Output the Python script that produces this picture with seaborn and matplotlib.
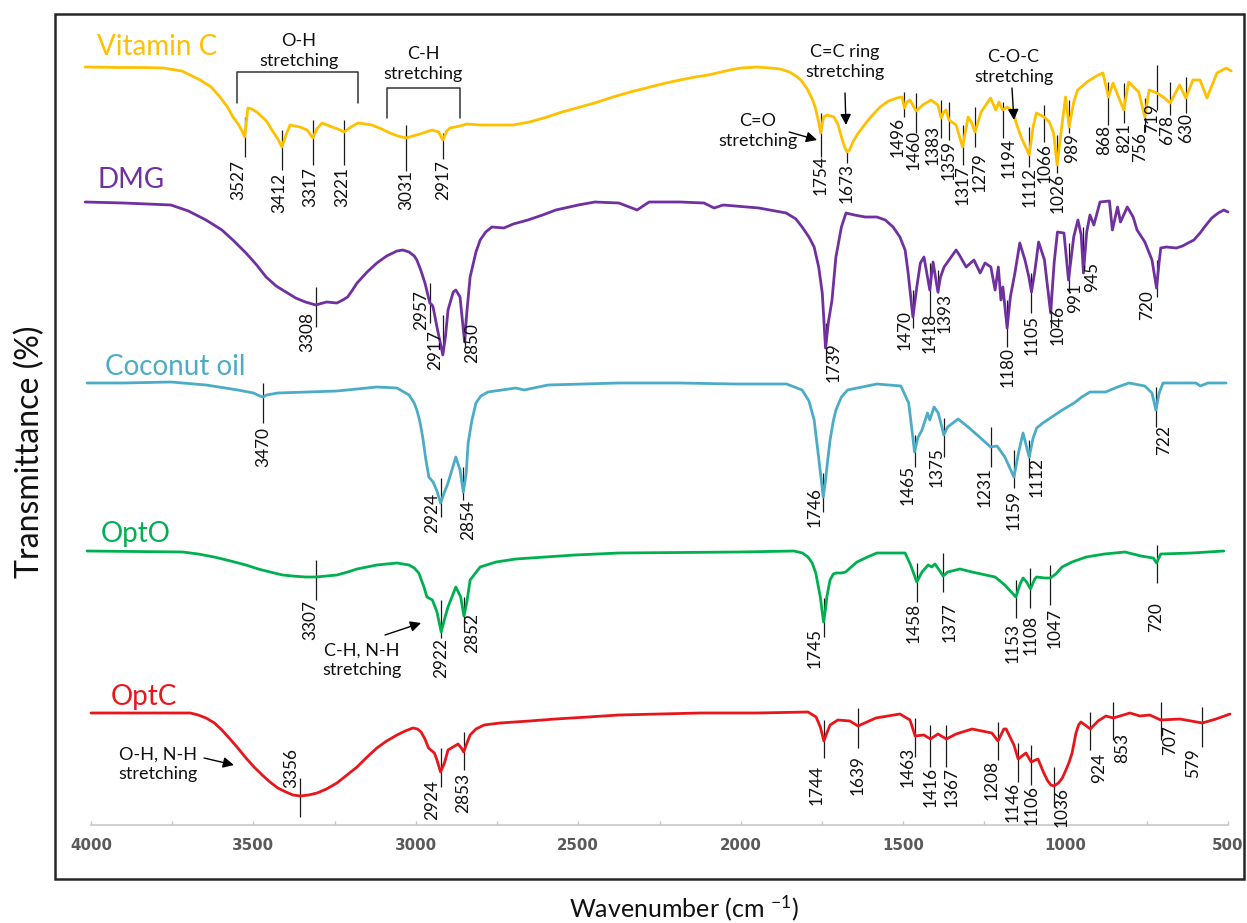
import matplotlib
matplotlib.use("Agg")
import matplotlib.pyplot as plt
import matplotlib.transforms as mtransforms
from matplotlib.patches import Rectangle
import pandas as pd
import seaborn as sns

# ---------------- FTIR spectra (wavenumber, relative transmittance) ----------------
vitc_wn = [4018, 3911, 3840, 3778, 3720, 3664, 3630, 3603, 3580, 3563,
           3545, 3535, 3527, 3522, 3517, 3505, 3490, 3480, 3460, 3443,
           3425, 3412, 3400, 3387, 3357, 3335, 3317, 3305, 3289, 3258,
           3240, 3221, 3200, 3178, 3135, 3105, 3080, 3055, 3031, 2987,
           2950, 2930, 2917, 2905, 2895, 2864, 2843, 2803, 2750, 2701,
           2650, 2596, 2550, 2495, 2450, 2393, 2340, 2279, 2230, 2187,
           2140, 2100, 2060, 2033, 2000, 1950, 1910, 1879, 1850, 1830,
           1815, 1795, 1780, 1771, 1760, 1754, 1745, 1734, 1713, 1700,
           1690, 1680, 1673, 1665, 1655, 1640, 1624, 1600, 1571, 1545,
           1519, 1503, 1496, 1488, 1479, 1460, 1440, 1414, 1393, 1383,
           1375, 1368, 1359, 1337, 1317, 1300, 1290, 1279, 1260, 1231,
           1215, 1205, 1194, 1180, 1160, 1153, 1137, 1112, 1100, 1090,
           1066, 1050, 1037, 1026, 1012, 1000, 989, 975, 963, 930,
           900, 885, 868, 854, 821, 806, 775, 756, 743, 719,
           700, 678, 649, 630, 608, 586, 565, 534, 506, 490]
vitc_t = [0, -0.5, -0.5, -1, -4, -13, -20, -30, -40, -50,
          -58, -64, -70, -55, -41, -42, -45, -48, -54, -63,
          -72, -80, -68, -58, -60, -63, -71, -62, -56, -60,
          -62, -65, -60, -56, -58, -62, -66, -69, -71, -67,
          -63, -65, -73, -64, -61, -59, -57, -58, -58, -58,
          -55, -50, -45, -40, -36, -30, -25, -20, -16, -13,
          -10, -8, -5, -3, -1, 0, -1, -2, -5, -9,
          -13, -22, -32, -40, -55, -66, -50, -48, -50, -58,
          -70, -80, -85, -83, -75, -67, -60, -50, -40, -34,
          -31, -30, -41, -35, -33, -44, -38, -33, -38, -51,
          -45, -43, -53, -58, -80, -50, -55, -65, -45, -31,
          -43, -35, -43, -40, -45, -55, -70, -88, -60, -46,
          -50, -55, -66, -98, -60, -30, -60, -35, -23, -14,
          -8, -6, -30, -16, -43, -15, -25, -50, -23, -26,
          -30, -36, -18, -31, -13, -13, -31, -6, -1, -4]

dmg_wn = [4018, 3900, 3754, 3700, 3646, 3597, 3560, 3523, 3490, 3461,
          3430, 3400, 3370, 3340, 3308, 3275, 3243, 3225, 3210, 3195,
          3181, 3150, 3120, 3090, 3058, 3040, 3021, 3005, 2997, 2985,
          2972, 2957, 2950, 2947, 2935, 2917, 2909, 2901, 2885, 2877,
          2864, 2850, 2843, 2833, 2815, 2802, 2785, 2766, 2729, 2700,
          2655, 2610, 2569, 2500, 2449, 2375, 2319, 2282, 2187, 2113,
          2082, 2054, 1944, 1860, 1830, 1811, 1790, 1774, 1760, 1749,
          1739, 1730, 1719, 1707, 1690, 1676, 1650, 1617, 1581, 1555,
          1531, 1510, 1494, 1485, 1470, 1458, 1447, 1436, 1418, 1408,
          1393, 1385, 1374, 1337, 1327, 1306, 1282, 1263, 1248, 1230,
          1217, 1207, 1199, 1193, 1180, 1170, 1156, 1141, 1125, 1113,
          1105, 1095, 1083, 1065, 1058, 1046, 1035, 1025, 1005, 991,
          975, 962, 952, 945, 935, 925, 913, 894, 865, 856,
          840, 831, 810, 792, 780, 756, 734, 720, 712, 707,
          690, 659, 640, 623, 605, 586, 570, 550, 530, 513,
          500]
dmg_t = [0, -1, -3, -9, -18, -28, -39, -51, -63, -75,
         -84, -90, -96, -100, -103, -100, -101, -98, -95, -88,
         -81, -70, -61, -54, -49, -48, -50, -54, -58, -68,
         -81, -101, -103, -105, -125, -153, -135, -108, -90, -88,
         -95, -140, -110, -75, -50, -38, -30, -25, -26, -22,
         -18, -13, -8, -3, 0, -1, -8, 0, 0, -1,
         -6, -3, -6, -11, -17, -25, -35, -45, -65, -91,
         -146, -120, -98, -55, -25, -11, -13, -15, -15, -18,
         -25, -35, -48, -70, -115, -85, -61, -55, -88, -60,
         -90, -75, -65, -48, -53, -65, -58, -71, -61, -65,
         -88, -65, -98, -85, -126, -95, -71, -41, -58, -75,
         -90, -70, -40, -58, -78, -111, -60, -30, -31, -78,
         -35, -18, -33, -71, -30, -13, -23, 0, 1, -28,
         -5, -20, -5, -15, -28, -40, -58, -86, -60, -46,
         -45, -46, -44, -41, -38, -31, -24, -16, -11, -8,
         -10]

coco_wn = [4012, 3900, 3754, 3646, 3548, 3500, 3480, 3470, 3460, 3425,
           3243, 3120, 3058, 3021, 3005, 2997, 2988, 2979, 2970, 2960,
           2947, 2935, 2924, 2913, 2901, 2877, 2864, 2854, 2845, 2839,
           2828, 2815, 2800, 2778, 2692, 2667, 2593, 2375, 2187, 2018,
           1859, 1811, 1790, 1774, 1760, 1746, 1738, 1735, 1725, 1715,
           1707, 1690, 1671, 1581, 1507, 1483, 1470, 1465, 1455, 1442,
           1425, 1418, 1405, 1392, 1380, 1375, 1363, 1331, 1300, 1265,
           1231, 1211, 1187, 1159, 1145, 1131, 1112, 1100, 1089, 1070,
           1047, 1010, 974, 950, 925, 877, 840, 805, 756, 734,
           722, 712, 700, 599, 585, 562, 506]
coco_t = [0, 0, 1, -2, -7, -10, -13, -14, -12, -10,
          -8, -4, -5, -12, -20, -27, -38, -54, -75, -94,
          -99, -108, -120, -110, -100, -74, -87, -109, -90, -60,
          -38, -20, -13, -9, -5, -7, -2, 0, 0, -1,
          -1, -7, -18, -37, -75, -114, -95, -85, -57, -38,
          -27, -14, -7, -1, -3, -20, -55, -69, -55, -47,
          -30, -37, -24, -30, -45, -52, -44, -36, -44, -54,
          -64, -63, -74, -94, -70, -50, -74, -55, -45, -40,
          -35, -27, -20, -14, -9, -9, -4, 0, -3, -10,
          -27, -10, 0, 0, -3, 0, 0]

opto_wn = [4012, 3718, 3670, 3621, 3570, 3523, 3485, 3449, 3410, 3380,
           3340, 3307, 3275, 3243, 3210, 3181, 3120, 3058, 3021, 3005,
           2991, 2975, 2966, 2949, 2935, 2922, 2910, 2901, 2877, 2862,
           2852, 2843, 2833, 2802, 2753, 2692, 2510, 2375, 2005, 1836,
           1810, 1793, 1780, 1769, 1755, 1745, 1738, 1735, 1725, 1715,
           1707, 1690, 1677, 1660, 1642, 1610, 1581, 1494, 1477, 1458,
           1442, 1423, 1412, 1402, 1385, 1377, 1363, 1325, 1288, 1217,
           1187, 1153, 1140, 1131, 1120, 1108, 1095, 1089, 1064, 1047,
           1030, 1011, 980, 937, 880, 817, 768, 730, 720, 707,
           611, 513]
opto_t = [1, 0, -2, -5, -9, -13, -17, -20, -23, -24,
          -25, -25, -24, -23, -20, -17, -13, -11, -13, -16,
          -21, -35, -45, -48, -60, -80, -65, -55, -35, -45,
          -64, -50, -28, -15, -10, -7, -3, -1, 0, 1,
          -1, -5, -11, -21, -45, -70, -55, -45, -28, -22,
          -21, -21, -20, -15, -10, -5, -1, -1, -13, -30,
          -20, -13, -15, -12, -20, -24, -20, -17, -20, -25,
          -33, -45, -32, -26, -30, -37, -27, -25, -26, -26,
          -22, -15, -10, -5, -2, 0, -4, -6, -11, -2,
          -1, 1]

optc_wn = [4000, 3720, 3694, 3670, 3646, 3620, 3597, 3572, 3548, 3523,
           3498, 3473, 3449, 3425, 3400, 3378, 3356, 3330, 3304, 3275,
           3243, 3212, 3181, 3150, 3120, 3090, 3058, 3033, 3009, 2995,
           2984, 2972, 2961, 2943, 2935, 2924, 2912, 2901, 2870, 2860,
           2853, 2845, 2833, 2815, 2790, 2741, 2650, 2570, 2470, 2375,
           2250, 2125, 1950, 1793, 1768, 1755, 1744, 1735, 1725, 1701,
           1664, 1639, 1584, 1510, 1479, 1463, 1436, 1416, 1393, 1367,
           1337, 1288, 1227, 1208, 1190, 1183, 1159, 1146, 1122, 1106,
           1085, 1067, 1055, 1045, 1036, 1022, 1010, 999, 990, 980,
           968, 960, 953, 940, 924, 900, 876, 853, 802, 771,
           741, 707, 648, 579, 537, 494]
optc_t = [0, 0, 0, -2, -5, -10, -17, -26, -35, -45,
          -54, -62, -69, -75, -79, -82, -83, -82, -80, -76,
          -70, -62, -54, -44, -35, -28, -22, -18, -15, -16,
          -19, -26, -35, -40, -47, -59, -50, -37, -31, -35,
          -39, -32, -22, -16, -12, -10, -8, -6, -4, -2,
          -1, 0, 0, 1, -4, -14, -28, -20, -12, -7,
          -8, -13, -5, -1, -7, -23, -22, -26, -21, -26,
          -21, -16, -20, -28, -16, -16, -32, -46, -40, -49,
          -46, -60, -68, -72, -73, -70, -65, -57, -50, -40,
          -20, -12, -9, -12, -16, -8, -3, -5, 0, -3,
          -2, -7, -6, -10, -6, -1]

# labelled band positions (cm-1)
vitc_peaks = [3527, 3412, 3317, 3221, 3031, 2917, 1754, 1673, 1496, 1460, 1383, 1359, 1317,
              1279, 1194, 1112, 1066, 1026, 989, 868, 821, 756, 719, 678, 630]
dmg_peaks = [3308, 2957, 2917, 2850, 1739, 1470, 1418, 1393, 1180, 1105, 1046, 991, 945, 720]
coco_peaks = [3470, 2924, 2854, 1746, 1465, 1375, 1231, 1159, 1112, 722]
opto_peaks = [3307, 2922, 2852, 1745, 1458, 1377, 1153, 1108, 1047, 720]
optc_peaks = [3356, 2924, 2853, 1744, 1639, 1463, 1416, 1367, 1208, 1146, 1106, 1036,
              924, 853, 707, 579]

names = ["Vitamin C", "DMG", "Coconut oil", "OptO", "OptC"]
colors = ["#FFC000", "#7030A0", "#4BACC6", "#00B050", "#E8161B"]
x_ticks = [4000, 3500, 3000, 2500, 2000, 1500, 1000, 500]

# ---------------- layout ----------------
# vertical stacking offset of every trace
offsets = [812, 677, 496, 327, 166]
# band markers: (line top, line bottom, label top, label x shift in px), relative to trace level
vitc_marks = [(-50, -90, -93, -6), (-63, -103, -106, -3), (-53, -98, -100, -3),
              (-53, -98, -100, -2), (-58, -104, -103, 0), (-66, -92, -93, 0),
              (-46, -90, -88, 0), (-83, -96, -96, 0), (-25, -50, -50, -7),
              (-26, -66, -63, -3), (-33, -71, -58, -9), (-35, -73, -73, 0),
              (-58, -98, -98, 0), (-40, -80, -85, 5), (-35, -71, -71, 6),
              (-60, -100, -100, 0), (-38, -75, -76, 0), (-68, -106, -106, 0),
              (-33, -66, -66, 3), (-15, -58, -58, -4), (-16, -56, -56, 0),
              (-31, -65, -65, -5), (2, -43, -36, -5), (-15, -48, -48, -3),
              (-10, -46, -46, 0)]
dmg_marks = [(-85, -125, -110, -9), (-81, -121, -88, -9), (-113, -151, -128, -8),
             (-115, -146, -121, 8), (-121, -160, -140, 8), (-88, -126, -108, -8),
             (-61, -115, -111, 0), (-68, -91, -91, 7), (-98, -145, -145, 0),
             (-71, -111, -113, 0), (-88, -126, -103, 7), (-41, -91, -81, 7),
             (-25, -71, -60, 9), (-58, -95, -88, -9)]
coco_marks = [(0, -40, -44, 0), (-95, -134, -110, -8), (-84, -117, -117, 5),
              (-90, -129, -104, -9), (-52, -84, -82, -7), (-35, -74, -64, -7),
              (-44, -84, -84, -6), (-67, -105, -107, 0), (-57, -95, -74, 7),
              (-4, -44, -42, 8)]
opto_marks = [(-8, -48, -48, -6), (-48, -86, -86, 0), (-45, -76, -61, 8),
              (-46, -85, -76, -9), (-11, -50, -51, -3), (-1, -40, -50, 6),
              (-28, -66, -71, -3), (-16, -56, -63, 0), (-13, -53, -56, 4),
              (7, -31, -50, 0)]
optc_marks = [(-65, -104, -35, -9), (-35, -74, -67, -8), (-19, -57, -60, 0),
              (-7, -45, -52, -7), (5, -35, -42, 0), (-5, -44, -34, -8),
              (-12, -54, -54, 0), (-12, -54, -54, 5), (-9, -47, -47, -6),
              (-30, -69, -69, -6), (-32, -72, -72, 0), (-54, -94, -74, 8),
              (1, -37, -40, 9), (11, -27, -20, 9), (11, -27, -12, 9),
              (6, -34, -35, -9)]
name_pos = [(3981, 824), (3981, 691), (3957, 504), (3969, 337), (3938, 174)]

sns.set_theme(style="white")
plt.rcParams["font.family"] = ["Lato", "DejaVu Sans"]
plt.rcParams["mathtext.fontset"] = "custom"
plt.rcParams["mathtext.rm"] = "Lato"
plt.rcParams["mathtext.it"] = "Lato"

W, H, DPI = 1247, 923, 100
fig = plt.figure(figsize=(W / DPI, H / DPI), dpi=DPI)
fig.patch.set_facecolor("white")
ax = fig.add_axes([55 / W, 44 / H, 1189 / W, 865 / H])
ax.set_facecolor("none")
ax.set_xlim(4110.8, 450.8)
ax.set_ylim(0, 865)

series = [(vitc_wn, vitc_t, vitc_peaks, vitc_marks),
          (dmg_wn, dmg_t, dmg_peaks, dmg_marks),
          (coco_wn, coco_t, coco_peaks, coco_marks),
          (opto_wn, opto_t, opto_peaks, opto_marks),
          (optc_wn, optc_t, optc_peaks, optc_marks)]

for (wn, t, peaks, marks), name, col, off, npos in zip(series, names, colors, offsets, name_pos):
    df = pd.DataFrame({"wavenumber": wn, "T": [v + off for v in t]})
    sns.lineplot(data=df, x="wavenumber", y="T", sort=False, estimator=None,
                 color=col, lw=2.0, ax=ax, zorder=3,
                 solid_joinstyle="round", solid_capstyle="round")
    for pk, (top, bot, lab, dx) in zip(peaks, marks):
        ax.vlines(pk, off + bot, off + top, color="#1a1a1a", lw=0.9, zorder=2)
        tr = mtransforms.offset_copy(ax.transData, fig=fig, x=dx, y=0, units="dots")
        ax.text(pk, off + lab, str(pk), transform=tr, rotation=90, ha="center",
                va="top", fontsize=12.4, color="#111111")
    ax.text(npos[0], npos[1], name, color=col, fontsize=20, ha="left", va="baseline")

# bracketed assignment groups on the Vitamin C trace
note_kw = dict(fontsize=13, color="#111111", ha="center", va="center", linespacing=1.25)
for left, right, top, bottom, tx, ty, txt in [(3551, 3178, 807, 776, 3360, 828, "O-H\nstretching"),
                                              (3089, 2864, 791, 761, 2978, 815, "C-H\nstretching")]:
    ax.plot([left, left, right, right], [bottom, top, top, bottom], color="#333333", lw=1.1)
    ax.text(tx, ty, txt, **note_kw)

arrow_kw = dict(arrowstyle="-|>", color="black", lw=1.0, mutation_scale=16, shrinkA=0, shrinkB=0)
notes = [("C=O\nstretching", (1947, 748), (1851, 747), (1765, 739)),
         ("C=C ring\nstretching", (1679, 817), (1679, 786), (1676, 754)),
         ("C-O-C\nstretching", (1160, 812), (1165, 791), (1159, 759)),
         ("C-H, N-H\nstretching", (3166, 219), (3095, 244), (2984, 256)),
         ("O-H, N-H\nstretching", (3794, 115), (3652, 121), (3560, 114))]
for txt, tpos, a0, a1 in notes:
    ax.text(tpos[0], tpos[1], txt, **note_kw)
    ax.annotate("", xy=a1, xytext=a0, arrowprops=arrow_kw)

# wavenumber axis drawn inside the frame
for s in ["left", "right", "top"]:
    ax.spines[s].set_visible(False)
ax.spines["bottom"].set_position(("data", 54))
ax.spines["bottom"].set_bounds(500, 4000)
ax.spines["bottom"].set_color("#C8C8C8")
ax.spines["bottom"].set_linewidth(1.2)
ax.set_xticks(x_ticks)
ax.set_xticklabels([str(v) for v in x_ticks], fontfamily="DejaVu Sans",
                   fontweight="bold", fontsize=10.8, color="#5A5A5A")
ax.set_xticks([3750, 3250, 2750, 2250, 1750, 1250, 750], minor=True)
ax.tick_params(axis="x", which="both", direction="in", length=3, width=1,
               color="#C8C8C8", pad=9, bottom=True)
ax.set_yticks([])
ax.set_xlabel("")
ax.set_ylabel("")

# outer frame
fig.add_artist(Rectangle((55 / W, 44 / H), 1189 / W, 865 / H, fill=False,
                         edgecolor="#262626", lw=1.8, transform=fig.transFigure))

fig.text(30 / W, 1 - 452 / H, "Transmittance (%)", rotation=90, ha="center",
         va="center", fontsize=23, color="#111111")
fig.text(684 / W, 1 - 908 / H, "Wavenumber (cm $^{-1}$)", ha="center", va="center",
         fontsize=18, color="#111111")

fig.savefig("out.png", dpi=DPI, facecolor="white")
